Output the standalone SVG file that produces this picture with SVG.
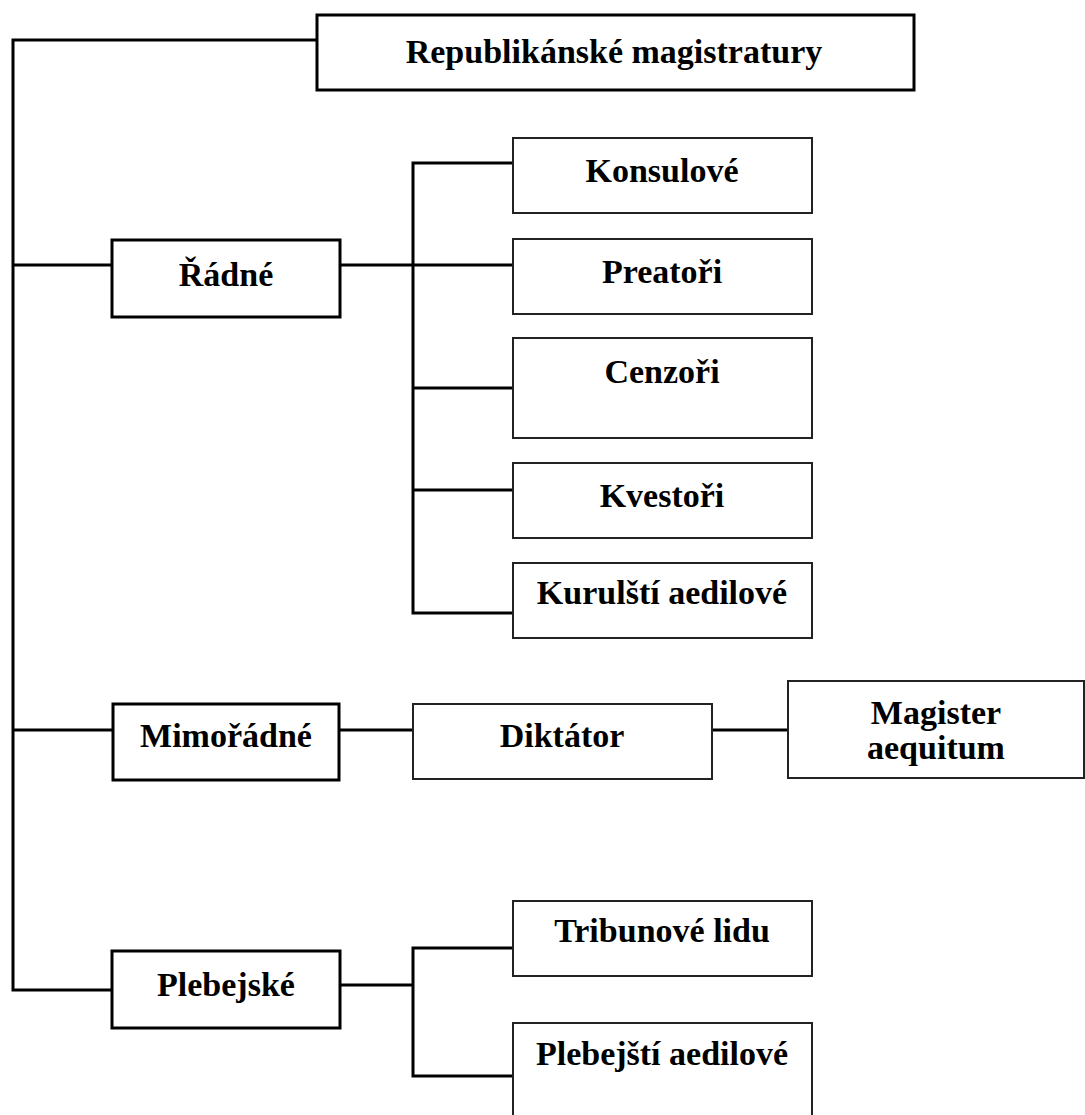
<svg xmlns="http://www.w3.org/2000/svg" width="1085" height="1115" viewBox="0 0 1085 1115">
<style>
.thick{fill:#fff;stroke:#000;stroke-width:3}
.thin{fill:#fff;stroke:#222;stroke-width:2}
.c{fill:none;stroke:#000;stroke-width:3;stroke-linejoin:miter}
text{font-family:"Liberation Serif","Times New Roman",serif;font-weight:bold;font-size:34px;fill:#000;text-anchor:middle}
</style>
<rect width="1085" height="1115" fill="#fff"/>
<g id="connectors">
<path class="c" d="M317,40 H13 V990 H112"/>
<path class="c" d="M13,265 H112"/>
<path class="c" d="M13,730 H113"/>
<path class="c" d="M340,265 H513"/>
<path class="c" d="M513,163 H413 V613 H513"/>
<path class="c" d="M413,388 H513"/>
<path class="c" d="M413,490 H513"/>
<path class="c" d="M340,730 H413"/>
<path class="c" d="M712,730 H788"/>
<path class="c" d="M340,985 H413"/>
<path class="c" d="M513,948 H413 V1076 H513"/>
</g>
<g id="n-root"><rect class="thick" x="317" y="15" width="597" height="75"/><text x="614" y="63">Republikánské magistratury</text></g>
<g id="n-radne"><rect class="thick" x="112" y="240" width="228" height="77"/><text x="226" y="286">Řádné</text></g>
<g id="n-konsulove"><rect class="thin" x="513" y="138" width="299" height="75"/><text x="662" y="182">Konsulové</text></g>
<g id="n-preatori"><rect class="thin" x="513" y="239" width="299" height="75"/><text x="662" y="283">Preatoři</text></g>
<g id="n-cenzori"><rect class="thin" x="513" y="338" width="299" height="100"/><text x="662" y="383">Cenzoři</text></g>
<g id="n-kvestori"><rect class="thin" x="513" y="463" width="299" height="75"/><text x="662" y="507">Kvestoři</text></g>
<g id="n-kurulsti"><rect class="thin" x="513" y="563" width="299" height="75"/><text x="662" y="604">Kurulští aedilové</text></g>
<g id="n-mimoradne"><rect class="thick" x="113" y="704" width="226" height="76"/><text x="226" y="747">Mimořádné</text></g>
<g id="n-diktator"><rect class="thin" x="413" y="704" width="299" height="75"/><text x="562" y="747">Diktátor</text></g>
<g id="n-magister"><rect class="thin" x="788" y="681" width="296" height="97"/><text x="936" y="724">Magister</text><text x="936" y="759">aequitum</text></g>
<g id="n-plebejske"><rect class="thick" x="112" y="951" width="228" height="77"/><text x="226" y="996">Plebejské</text></g>
<g id="n-tribunove"><rect class="thin" x="513" y="901" width="299" height="75"/><text x="662" y="942">Tribunové lidu</text></g>
<g id="n-plebejsti"><rect class="thin" x="513" y="1023" width="299" height="100"/><text x="662" y="1065">Plebejští aedilové</text></g>
</svg>
